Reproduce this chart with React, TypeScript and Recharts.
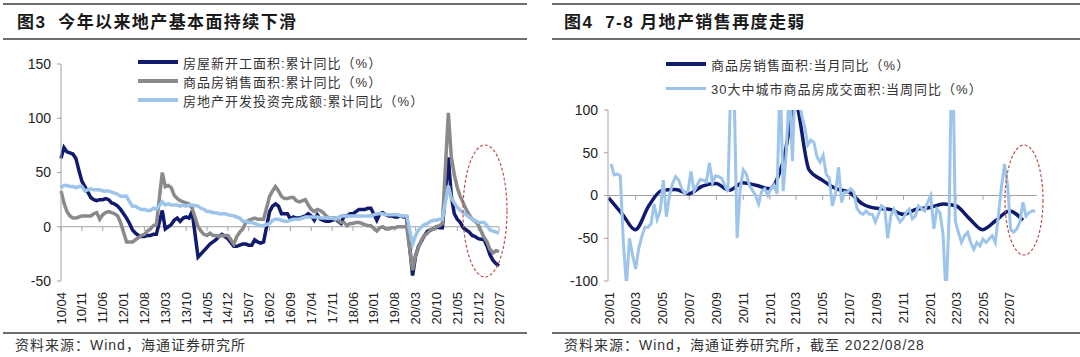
import React from "react";
import { LineChart, Line, XAxis, YAxis, ReferenceLine } from "recharts";

const NAVY = "#101a6e";
const GREY = "#8a8a8a";
const SKY = "#9dc4ea";
const AXIS = "#a3a3a3";
const RULE = "#6e6e6e";
const INK = "#222";
const OVAL = "#c0504d";
const MIXED = '"Liberation Sans", Arial, "Noto Sans CJK SC", sans-serif';
const NUM = '"Liberation Sans", Arial, sans-serif';

// ---------- 图3: monthly cumulative YoY (%), 2010/04 - 2022/07, no January release ----------
const fig3Labels = [
  "10/04", "10/11", "11/06", "12/01", "12/08", "13/03", "13/10", "14/05", "14/12", "15/07", "16/02",
  "16/09", "17/04", "17/11", "18/06", "19/01", "19/08", "20/03", "20/10", "21/05", "21/12", "22/07",
];

const newStarts: (number | null)[] = [
  63, 73, 69, 68, 67, 63, 52, 42, 37,
  null, 27, 25, 24, 25, 25, 26, 25, 22, 21, 19, 16,
  null, 8, 3, -3, -6, -8, -9, -9, -8, -8, -7, -7,
  null, 15, -2, 0, 2, 6, 8, 5, 8, 9, 8, 14,
  null, -28, -25, -22, -19, -16, -14, -12, -9, -7, -9, -11,
  null, -18, -18, -17, -16, -16, -17, -17, -12, -14, -15, -14,
  null, 14, 19, 21, 19, 12, 12, 12, 7, 9, 8, 8,
  null, 10, 12, 10, 6, 11, 7, 6, 5, 5, 6, 7,
  null, 3, 10, 10, 12, 12, 14, 16, 16, 16, 17, 17,
  null, 6, 12, 13, 11, 10, 10, 9, 9, 10, 9, 9,
  null, -45, -27, -18, -13, -8, -4, -3, -2, 0, -1, -1,
  null, 64, 28, 12, 7, 4, -1, -3, -5, -8, -9, -11,
  null, -12, -18, -26, -31, -34, -36,
];

const salesCum: (number | null)[] = [
  33, 22, 14, 10, 8, 8, 9, 10, 10,
  null, 10, 12, 13, 7, 11, 13, 14, 13, 12, 10, 4,
  null, -14, -14, -14, -12, -10, -8, -7, -4, -2, 1, 2,
  null, 50, 37, 38, 36, 29, 26, 24, 23, 22, 21, 17,
  null, 0, -4, -7, -8, -6, -8, -8, -9, -8, -8, -8,
  null, -16, -9, -5, -2, 4, 6, 7, 8, 7, 7, 7,
  null, 28, 33, 37, 33, 28, 26, 26, 27, 27, 24, 23,
  null, 25, 20, 16, 14, 16, 15, 13, 10, 8, 8, 8,
  null, 4, 4, 1, 3, 3, 4, 4, 3, 2, 1, 1,
  null, -4, -1, 0, -2, -2, -1, -1, 0, 0, 0, 0,
  null, -40, -26, -19, -12, -8, -6, -3, -2, 0, 1, 3,
  null, 105, 64, 48, 36, 28, 22, 16, 11, 7, 5, 2,
  null, -10, -14, -21, -24, -22, -23,
];

const investCum: (number | null)[] = [
  36, 38, 38, 37, 37, 36, 37, 37, 33,
  null, 35, 34, 34, 34, 33, 33, 33, 32, 31, 30, 28,
  null, 28, 23, 19, 19, 17, 16, 16, 15, 15, 17, 16,
  null, 23, 20, 21, 20, 20, 20, 19, 20, 19, 20, 20,
  null, 19, 17, 16, 14, 14, 13, 13, 12, 12, 12, 11,
  null, 10, 9, 8, 5, 5, 4, 4, 3, 2, 1, 1,
  null, 3, 6, 7, 7, 6, 5, 5, 6, 7, 7, 7,
  null, 9, 9, 9, 9, 9, 8, 8, 8, 8, 8, 7,
  null, 10, 10, 10, 10, 10, 10, 10, 10, 10, 10, 10,
  null, 12, 12, 12, 11, 11, 11, 11, 11, 10, 10, 10,
  null, -16, -8, -3, 0, 2, 3, 5, 6, 6, 7, 7,
  null, 38, 26, 22, 18, 15, 13, 11, 9, 7, 6, 4,
  null, 4, 1, -3, -4, -5, -6,
];

// ---------- 图4: weekly 30-city YoY and monthly sales YoY (%) ----------
const fig4Labels = [
  "20/01", "20/03", "20/05", "20/07", "20/09", "20/11", "21/01", "21/03",
  "21/05", "21/07", "21/09", "21/11", "22/01", "22/03", "22/05", "22/07",
];

const weekFirst = Date.UTC(2020, 0, 5); // weekly points through 2022/08/28
const city30Weekly = [
  37, 24, 25, 23, -55, -105, -50, -70, -86, -62,
  -48, -37, -37, -33, -10, -28, -18, 18, -25, 0,
  14, 22, 18, 8, 2, 5, 28, 5, 12, 19,
  18, 16, 38, 15, 23, 22, 20, 12, 4, 140,
  130, -50, 8, 30, 25, 12, 6, 0, -10, 5,
  8, 0, 8, 12, 2, 140, 5, 50, 130, 40,
  150, 120, 94, 80, 59, 65, 62, 45, 39, 47,
  25, 20, -12, 2, 33, -8, 4, 4, 8, 4,
  -15, -20, -22, -18, -22, -22, -31, -22, -12, -15,
  -50, -24, -16, -24, -31, -27, -20, -16, -27, -24,
  -12, -15, -18, -8, 0, -39, -16, -20, -45, -120,
  -20, 200, -30, -43, -55, -47, -43, -55, -63, -55,
  -59, -51, -55, -51, -47, -55, -24, 10, 37, 12,
  -40, -43, -39, -31, -8, -24, -20, -18, -18,
];

// month values Dec 2019 .. Jul 2022, dated at month end
const salesMonthly = [
  -3, -22, -40, -12, 6, 7, 2, 11, 14, 6, 15, 12,
  8, 40, 105, 30, 18, 8, 4, -10, -15, -16, -22, -16,
  -14, -10, -12, -27, -40, -29, -18, -29,
];

const DAY = 86400000;

const fig3Rows = newStarts.map((v, i) => ({ m: i, start: v, sales: salesCum[i], invest: investCum[i] }));
const fig3Ticks = fig3Labels.map((_, k) => k * 7);
const fig3LabelMap = new Map(fig3Ticks.map((t, k) => [t, fig3Labels[k]]));

const weeklyRows = city30Weekly.map((v, i) => ({ t: weekFirst + i * 7 * DAY, v }));
const monthlyRows = salesMonthly.map((v, m) => ({ t: Date.UTC(2020, m, 0), v }));
const fig4Ticks = fig4Labels.map((s) => Date.UTC(2000 + Number(s.slice(0, 2)), Number(s.slice(3)) - 1, 1));
const fig4LabelMap = new Map(fig4Ticks.map((t, k) => [t, fig4Labels[k]]));

function VTick({ x, y, payload, labels }: any) {
  const label = labels.get(payload.value) ?? "";
  return (
    <text x={x} y={y} transform={`rotate(-90 ${x} ${y})`} textAnchor="end" dy="0.35em"
      fontSize={13} fontFamily={NUM} fill={INK}>
      {label}
    </text>
  );
}

const abs = (left: number, top: number, extra: React.CSSProperties = {}): React.CSSProperties => ({
  position: "absolute", left, top, whiteSpace: "nowrap", ...extra,
});

function LegendRow({ color, label, left, top, thick = 4 }: { color: string; label: string; left: number; top: number; thick?: number }) {
  return (
    <div style={abs(left, top - 10, { height: 20, display: "flex", alignItems: "center" })}>
      <div style={{ width: 40, height: thick, background: color, marginRight: 5 }} />
      <span style={{ fontFamily: MIXED, fontSize: 13, letterSpacing: 1, color: "#333" }}>{label}</span>
    </div>
  );
}

const titleStyle: React.CSSProperties = { fontFamily: MIXED, fontSize: 17, fontWeight: 700, color: "#1a1a1a", letterSpacing: 1.4, lineHeight: "20px" };
const sourceStyle: React.CSSProperties = { fontFamily: MIXED, fontSize: 14, color: "#333", letterSpacing: 1, lineHeight: "18px" };

export default function App() {
  return (
    <div style={{ position: "absolute", left: 0, top: 0, width: 1080, height: 357, background: "#fff", overflow: "hidden" }}>
      {/* 图3 */}
      <div style={abs(0, 0)}>
        <LineChart width={540} height={357} data={fig3Rows} margin={{ top: 64, right: 41, bottom: 0, left: 0 }}>
          <XAxis dataKey="m" type="number" domain={[0, 147]} ticks={fig3Ticks} interval={0} height={76}
            axisLine={false} tickLine={false} tickSize={0} tickMargin={11}
            tick={(p: any) => <VTick {...p} labels={fig3LabelMap} />} />
          <YAxis domain={[-50, 150]} ticks={[-50, 0, 50, 100, 150]} width={61} tickSize={4} tickMargin={6}
            axisLine={{ stroke: AXIS }} tickLine={{ stroke: AXIS }}
            tick={{ fontSize: 14, fontFamily: NUM, fill: INK }} />
          <ReferenceLine y={0} stroke={AXIS} />
          {fig3Ticks.map((t) => (
            <ReferenceLine key={t} segment={[{ x: t, y: 0 }, { x: t, y: -4 }]} stroke={AXIS} />
          ))}
          <Line dataKey="start" stroke={NAVY} strokeWidth={3.5} dot={false} connectNulls isAnimationActive={false} type="linear" />
          <Line dataKey="sales" stroke={GREY} strokeWidth={3.5} dot={false} connectNulls isAnimationActive={false} type="linear" />
          <Line dataKey="invest" stroke={SKY} strokeWidth={3.5} dot={false} connectNulls isAnimationActive={false} type="linear" />
        </LineChart>
      </div>

      {/* 图4 */}
      <div style={abs(540, 0)}>
        <LineChart width={540} height={357} margin={{ top: 110, right: 43, bottom: 0, left: 0 }}>
          <XAxis dataKey="t" type="number" domain={[Date.UTC(2019, 11, 29), Date.UTC(2022, 8, 1)]} ticks={fig4Ticks}
            interval={0} height={76} allowDataOverflow axisLine={false} tickLine={false} tickSize={0} tickMargin={11}
            tick={(p: any) => <VTick {...p} labels={fig4LabelMap} />} />
          <YAxis domain={[-100, 100]} ticks={[-100, -50, 0, 50, 100]} width={68} tickSize={4} tickMargin={6}
            allowDataOverflow axisLine={{ stroke: AXIS }} tickLine={{ stroke: AXIS }}
            tick={{ fontSize: 14, fontFamily: NUM, fill: INK }} />
          <ReferenceLine y={0} stroke={AXIS} />
          {fig4Ticks.map((t) => (
            <ReferenceLine key={t} segment={[{ x: t, y: 0 }, { x: t, y: -5 }]} stroke={AXIS} />
          ))}
          <Line data={monthlyRows} dataKey="v" stroke={NAVY} strokeWidth={3.5} dot={false} isAnimationActive={false} type="monotone" />
          <Line data={weeklyRows} dataKey="v" stroke={SKY} strokeWidth={3} dot={false} isAnimationActive={false} type="linear" />
        </LineChart>
      </div>

      {/* rules and highlight ovals */}
      <svg width={1080} height={357} style={abs(0, 0, { pointerEvents: "none" })}>
        <line x1={3} x2={527} y1={4} y2={4} stroke={RULE} strokeWidth={2} />
        <line x1={3} x2={527} y1={39} y2={39} stroke={RULE} strokeWidth={2} />
        <line x1={3} x2={527} y1={333} y2={333} stroke={RULE} strokeWidth={2} />
        <line x1={552} x2={1080} y1={4} y2={4} stroke={RULE} strokeWidth={2} />
        <line x1={552} x2={1080} y1={39} y2={39} stroke={RULE} strokeWidth={2} />
        <line x1={552} x2={1080} y1={333} y2={333} stroke={RULE} strokeWidth={2} />
        <ellipse cx={485} cy={211} rx={22} ry={66} fill="none" stroke={OVAL} strokeWidth={1.2} strokeDasharray="3 2" />
        <ellipse cx={1024} cy={200} rx={19} ry={55} fill="none" stroke={OVAL} strokeWidth={1.2} strokeDasharray="3 2" />
      </svg>

      {/* titles */}
      <div style={abs(17, 13, titleStyle)}>图3<span style={{ marginLeft: 12 }}>今年以来地产基本面持续下滑</span></div>
      <div style={abs(564, 13, titleStyle)}>图4<span style={{ marginLeft: 12 }}>7-8 月地产销售再度走弱</span></div>

      {/* legends */}
      <LegendRow color={NAVY} label="房屋新开工面积:累计同比（%）" left={138} top={62} />
      <LegendRow color={GREY} label="商品房销售面积:累计同比（%）" left={138} top={81} />
      <LegendRow color={SKY} label="房地产开发投资完成额:累计同比（%）" left={138} top={100} />
      <LegendRow color={NAVY} label="商品房销售面积:当月同比（%）" left={666} top={64} />
      <LegendRow color={SKY} label="30大中城市商品房成交面积:当周同比（%）" left={666} top={88} thick={3} />

      {/* sources */}
      <div style={abs(15, 336, sourceStyle)}>资料来源：Wind，海通证券研究所</div>
      <div style={abs(564, 336, sourceStyle)}>资料来源：Wind，海通证券研究所，截至 2022/08/28</div>
    </div>
  );
}
